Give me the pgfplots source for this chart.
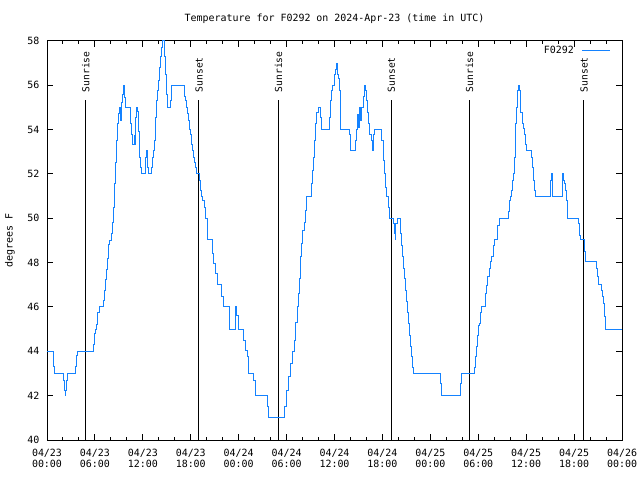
\documentclass[border=0pt]{standalone}
\usepackage{pgfplots}
\pgfplotsset{compat=1.18}
\usepackage{fontspec}
\setmonofont{DejaVu Sans Mono}
\definecolor{tline}{RGB}{20,130,255}
\newcommand{\gfont}{\ttfamily\fontsize{10}{10.5}\selectfont}
\newcommand{\sfont}{\ttfamily\fontsize{9.7}{11}\selectfont}
\begin{document}
\begin{tikzpicture}
\useasboundingbox (0,0) rectangle (640bp,480bp);
\begin{axis}[
  at={(47bp,40bp)}, anchor=south west,
  width=575bp, height=399bp, scale only axis,
  xmin=0, xmax=72, ymin=40, ymax=58,
  xtick={0,6,...,72},
  xticklabels={04/23\\00:00,04/23\\06:00,04/23\\12:00,04/23\\18:00,04/24\\00:00,04/24\\06:00,04/24\\12:00,04/24\\18:00,04/25\\00:00,04/25\\06:00,04/25\\12:00,04/25\\18:00,04/26\\00:00},
  minor x tick num=2,
  ytick={40,42,44,46,48,50,52,54,56,58},
  yticklabels={40,42,44,46,48,50,52,54,56,58},
  tick align=inside,
  major tick length=6bp, minor tick length=3bp,
  axis line style={line width=1bp},
  every tick/.style={black, line width=1bp},
  xticklabel style={align=center, font=\gfont, yshift=-6bp},
  yticklabel style={font=\gfont, xshift=-4bp},
  title={Temperature for F0292 on 2024-Apr-23 (time in UTC)},
  title style={at={(axis description cs:0.5,1)}, anchor=base, yshift=14bp, font=\gfont},
  ylabel={degrees F},
  ylabel style={at={(axis description cs:-0.0643,0.5)}, anchor=center, font=\gfont},
  legend style={at={(axis description cs:1,1)}, anchor=north east, draw=none, fill=none, font=\gfont, xshift=-10bp, yshift=-2bp, inner sep=1bp},
  legend cell align=right,
  legend plot pos=right,
  legend image code/.code={\draw[#1] (0bp,0bp) -- (28bp,0bp);},
]
\addplot[black, line width=1bp, forget plot] coordinates {(4.8,40) (4.8,55.35)};
\addplot[black, line width=1bp, forget plot] coordinates {(18.99,40) (18.99,55.35)};
\addplot[black, line width=1bp, forget plot] coordinates {(28.94,40) (28.94,55.35)};
\addplot[black, line width=1bp, forget plot] coordinates {(43.08,40) (43.08,55.35)};
\addplot[black, line width=1bp, forget plot] coordinates {(52.87,40) (52.87,55.35)};
\addplot[black, line width=1bp, forget plot] coordinates {(67.21,40) (67.21,55.35)};
\node[rotate=90, anchor=west, inner sep=0pt, font=\sfont] at (axis cs:4.85,55.68) {Sunrise};
\node[rotate=90, anchor=west, inner sep=0pt, font=\sfont] at (axis cs:19.04,55.68) {Sunset};
\node[rotate=90, anchor=west, inner sep=0pt, font=\sfont] at (axis cs:28.99,55.68) {Sunrise};
\node[rotate=90, anchor=west, inner sep=0pt, font=\sfont] at (axis cs:43.13,55.68) {Sunset};
\node[rotate=90, anchor=west, inner sep=0pt, font=\sfont] at (axis cs:52.92,55.68) {Sunrise};
\node[rotate=90, anchor=west, inner sep=0pt, font=\sfont] at (axis cs:67.26,55.68) {Sunset};
\addplot[const plot, tline, line width=1bp] table {
0.0 44.0
0.79 43.3
1.0 43.0
2.05 42.7
2.17 42.25
2.26 42.0
2.36 42.25
2.43 42.7
2.55 43.0
3.55 43.3
3.68 43.8
3.8 44.0
5.81 44.3
5.94 44.8
6.02 45.0
6.15 45.2
6.32 45.75
6.52 46.0
7.07 46.3
7.19 46.75
7.32 47.25
7.44 47.7
7.57 48.2
7.7 48.8
7.82 49.0
8.07 49.3
8.2 49.8
8.32 50.5
8.41 51.56
8.57 52.5
8.7 53.5
8.83 54.26
8.95 54.71
9.08 55.0
9.2 54.4
9.33 55.24
9.45 55.6
9.54 56.0
9.7 55.45
9.83 55.0
10.5 54.26
10.62 53.8
10.75 53.35
10.92 53.75
11.0 53.35
11.12 54.56
11.2 55.0
11.29 54.8
11.42 53.9
11.54 52.75
11.67 52.3
11.79 52.0
12.34 52.75
12.46 53.05
12.59 52.3
12.71 52.0
13.13 52.3
13.26 52.75
13.39 53.05
13.51 53.51
13.64 54.56
13.76 55.3
13.89 55.75
14.01 56.2
14.14 56.8
14.27 57.3
14.39 57.7
14.52 58.0
14.77 57.3
14.89 56.5
15.02 55.6
15.14 55.0
15.43 55.3
15.56 55.75
15.64 56.0
17.19 55.5
17.31 55.3
17.48 55.0
17.6 54.71
17.73 54.4
17.85 54.0
18.03 53.8
18.15 53.35
18.28 53.05
18.4 52.75
18.53 52.5
18.65 52.3
18.78 52.0
19.07 51.7
19.2 51.26
19.36 51.0
19.49 50.8
19.66 50.5
19.82 50.0
20.07 49.04
20.74 48.4
20.91 47.96
21.12 47.5
21.33 47.0
21.91 46.46
22.04 46.0
22.84 45.0
23.59 46.0
23.75 45.6
24.0 45.0
24.63 44.5
24.88 44.05
25.14 43.75
25.26 43.0
25.85 42.7
26.1 42.0
27.65 41.5
27.77 41.0
29.69 41.5
29.94 42.25
30.2 42.85
30.45 43.45
30.7 43.98
30.95 44.5
31.07 45.3
31.33 46.0
31.45 46.6
31.58 47.28
31.78 48.26
31.91 48.86
32.04 49.46
32.2 49.83
32.33 50.36
32.46 51.0
33.16 51.56
33.29 52.16
33.42 52.76
33.54 53.5
33.67 54.26
33.79 54.78
34.0 55.0
34.21 54.56
34.38 54.0
35.38 54.56
35.51 55.3
35.68 55.75
35.8 56.0
35.97 56.5
36.14 56.7
36.26 57.0
36.39 56.5
36.55 56.3
36.64 55.75
36.76 54.0
37.93 53.8
38.06 53.05
38.69 53.5
38.81 54.0
38.94 54.7
39.06 54.1
39.19 55.0
39.31 54.4
39.44 55.0
39.57 55.5
39.73 56.0
39.86 55.75
39.98 55.3
40.11 54.78
40.24 54.26
40.32 54.0
40.44 53.8
40.61 53.5
40.74 53.05
40.86 53.8
41.03 54.0
41.91 53.5
42.16 52.6
42.28 52.0
42.41 51.4
42.54 51.0
42.71 50.5
42.83 50.0
43.33 49.76
43.45 49.31
43.58 49.04
43.7 49.76
43.83 50.0
44.21 49.31
44.33 48.78
44.46 48.26
44.58 47.73
44.71 47.28
44.83 46.76
44.96 46.23
45.09 45.74
45.21 45.26
45.34 44.73
45.46 44.23
45.59 43.75
45.71 43.26
45.84 43.0
49.23 42.55
49.35 42.0
51.74 42.55
51.86 43.0
53.5 43.26
53.62 43.75
53.75 44.23
53.87 44.73
54.0 45.15
54.12 45.26
54.25 45.74
54.37 46.0
54.95 46.6
55.04 46.98
55.21 47.36
55.37 47.73
55.54 48.03
55.71 48.26
55.87 48.78
56.04 49.04
56.46 49.68
56.63 50.0
57.76 50.29
57.88 50.81
58.05 51.0
58.18 51.26
58.3 51.71
58.43 52.0
58.6 52.76
58.72 54.26
58.85 55.0
58.97 55.75
59.1 56.0
59.22 55.75
59.35 54.78
59.51 54.26
59.64 54.03
59.85 53.8
59.97 53.35
60.1 53.05
60.69 52.76
60.81 52.3
60.94 51.71
61.06 51.26
61.19 51.0
63.0 51.71
63.11 52.0
63.24 51.0
64.53 52.0
64.66 51.71
64.78 51.56
64.91 51.26
65.04 50.81
65.16 50.0
66.54 49.76
66.66 49.23
66.79 49.04
67.3 48.5
67.42 48.03
68.76 47.73
68.89 47.36
69.01 47.03
69.47 46.76
69.6 46.46
69.72 46.16
69.85 45.56
69.97 45.0
72.0 45.0
};
\addlegendentry{F0292\kern6bp}
\end{axis}
\end{tikzpicture}
\end{document}
